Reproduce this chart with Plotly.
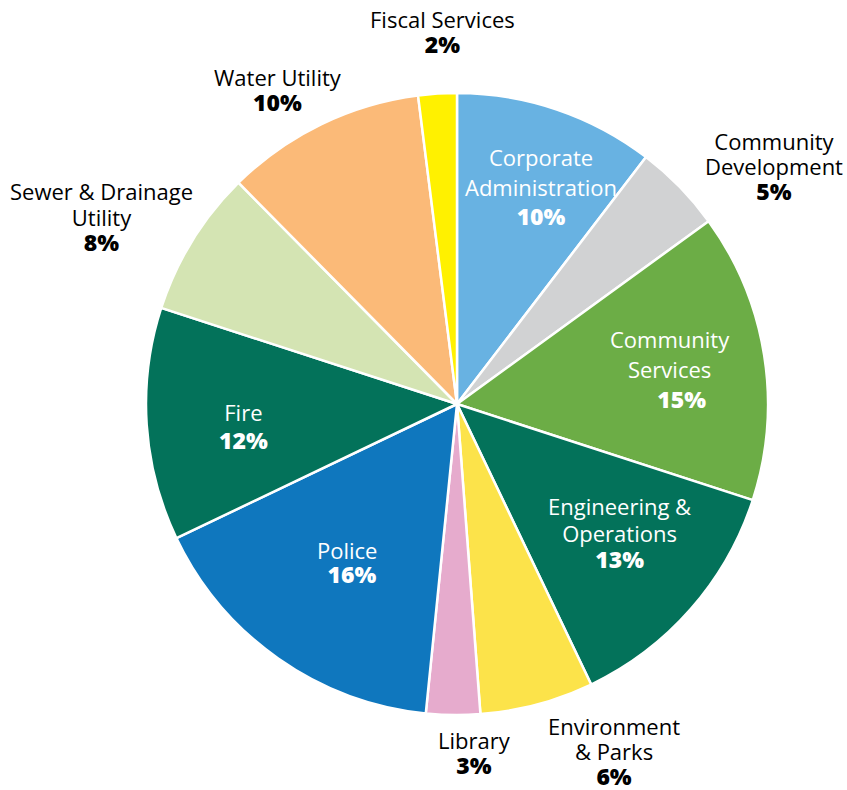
import plotly.graph_objects as go

# Share of operating budget by department (percent), clockwise from 12 o'clock
departments = [
    "Corporate Administration", "Community Development", "Community Services",
    "Engineering & Operations", "Environment & Parks", "Library", "Police",
    "Fire", "Sewer & Drainage Utility", "Water Utility", "Fiscal Services",
]
shares = [10.4, 4.6, 15.0, 12.9, 5.9, 2.8, 16.3, 12.1, 7.6, 10.4, 2.0]

# Label wording (line breaks) per department
label_lines = [
    ["Corporate", "Administration"], ["Community", "Development"],
    ["Community", "Services"], ["Engineering &", "Operations"],
    ["Environment", "& Parks"], ["Library"], ["Police"], ["Fire"],
    ["Sewer & Drainage", "Utility"], ["Water Utility"], ["Fiscal Services"],
]

colors = [
    "#68B2E2", "#D1D2D3", "#6CAD46", "#03725A", "#FCE34A", "#E6ABCD",
    "#0F77BE", "#03725A", "#D4E4B3", "#FBBA78", "#FFF100",
]
label_inside = [True, False, True, True, False, False, True, True, False, False, False]

W, H = 847, 790
CX, CY, R = 457, 404, 311

# Label layout in pixels: centre x, centre y, line spacing, indent of the percent line (nbsp count)
label_layout = [
    (541, 187, 29.5, 0), (774, 166, 25, 0), (670, 369, 30, 4), (619, 533, 26.5, 0),
    (614, 751, 25, 0), (474, 753, 25, 0), (347, 562, 23.5, 2), (243, 426, 28, 0),
    (101, 217, 25.5, 0), (278, 90, 25, 0), (442, 32, 25, 0),
]

FONT = "Open Sans"
NAME_SIZE = 22
PCT_SIZE = 23
LINE_HEIGHT = 1.3  # plotly's line spacing in em of the annotation font

fig = go.Figure(go.Pie(
    labels=departments,
    values=shares,
    sort=False,
    direction="clockwise",
    rotation=0,
    marker=dict(colors=colors, line=dict(color="white", width=2.5)),
    textinfo="none",
    hoverinfo="label+percent",
    showlegend=False,
    domain=dict(x=[(CX - R) / W, (CX + R) / W], y=[1 - (CY + R) / H, 1 - (CY - R) / H]),
))

annotations = []
for lines, v, inside, (px, py, dy, indent) in zip(label_lines, shares, label_inside, label_layout):
    color = "white" if inside else "black"
    base = dy / LINE_HEIGHT
    name_rows = [f"<span style='font-size:{NAME_SIZE}px'>{t}</span>" for t in lines]
    pct = ("&nbsp;" * indent) + (
        f"<span style='font-size:{PCT_SIZE}px;font-weight:800'>{round(v)}%</span>"
    )
    annotations.append(dict(
        x=px / W, y=1 - py / H, xref="paper", yref="paper",
        text="<br>".join(name_rows + [pct]),
        showarrow=False, xanchor="center", yanchor="middle", align="center",
        borderpad=0,
        font=dict(family=FONT, size=base, color=color),
    ))

fig.update_layout(
    width=W, height=H,
    margin=dict(l=0, r=0, t=0, b=0),
    paper_bgcolor="white", plot_bgcolor="white",
    annotations=annotations,
)

fig.write_html("out.html")
